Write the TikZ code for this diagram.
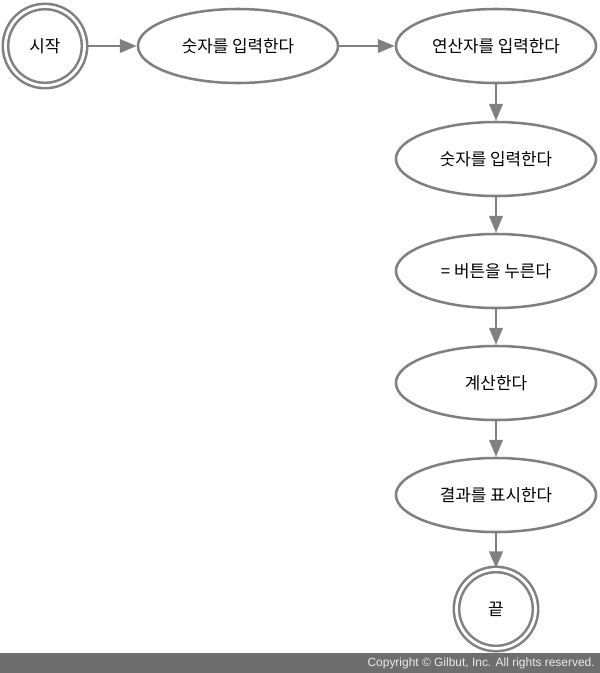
\documentclass[tikz,border=0pt]{standalone}
\usepackage{fontspec}
\setmainfont{Liberation Sans}
\newfontfamily\kofont{Noto Sans CJK KR}
\usepackage{xcolor}
\usetikzlibrary{shapes.geometric}
\usetikzlibrary{arrows.meta}
\definecolor{lineGray}{HTML}{808080}
\definecolor{barGray}{HTML}{6E6E6E}

\begin{document}
\begin{tikzpicture}[x=0.025cm, y=-0.025cm,
  stepnode/.style={ellipse, draw=lineGray, line width=1.8pt, fill=white,
    minimum width=5cm, minimum height=1.85cm, inner sep=0pt,
    font=\kofont\fontsize{12}{14}\selectfont},
  terminal/.style={circle, draw=lineGray, line width=1.8pt, double=white,
    double distance=2pt, minimum size=1.975cm, inner sep=0pt,
    font=\kofont\fontsize{12}{14}\selectfont},
  flow/.style={draw=lineGray, line width=1.8pt,
    -{Triangle[length=12pt, width=9.5pt]}}]

\useasboundingbox (0,0) rectangle (600,673);

\node[terminal] (start) at (45,46) {시작};
\node[stepnode] (num1) at (238,46) {숫자를 입력한다};
\node[stepnode] (op) at (496,46) {연산자를 입력한다};
\node[stepnode] (num2) at (496,159) {숫자를 입력한다};
\node[stepnode] (eq) at (496,271) {= 버튼을 누른다};
\node[stepnode] (calc) at (496,383) {계산한다};
\node[stepnode] (result) at (496,495) {결과를 표시한다};
\node[terminal] (stop) at (496,609) {끝};

\draw[flow] (start) -- (num1);
\draw[flow] (num1) -- (op);
\draw[flow] (op) -- (num2);
\draw[flow] (num2) -- (eq);
\draw[flow] (eq) -- (calc);
\draw[flow] (calc) -- (result);
\draw[flow] (result) -- (stop);

% copyright bar
\fill[barGray] (0,653) rectangle (600,673);
\node[anchor=east, inner sep=0pt, text=white!92!black, font=\fontsize{8.5}{10}\selectfont]
  (copy) at (595,663) {Copyright \textcopyright\ Gilbut, Inc. All rights reserved.};

\end{tikzpicture}
\end{document}
